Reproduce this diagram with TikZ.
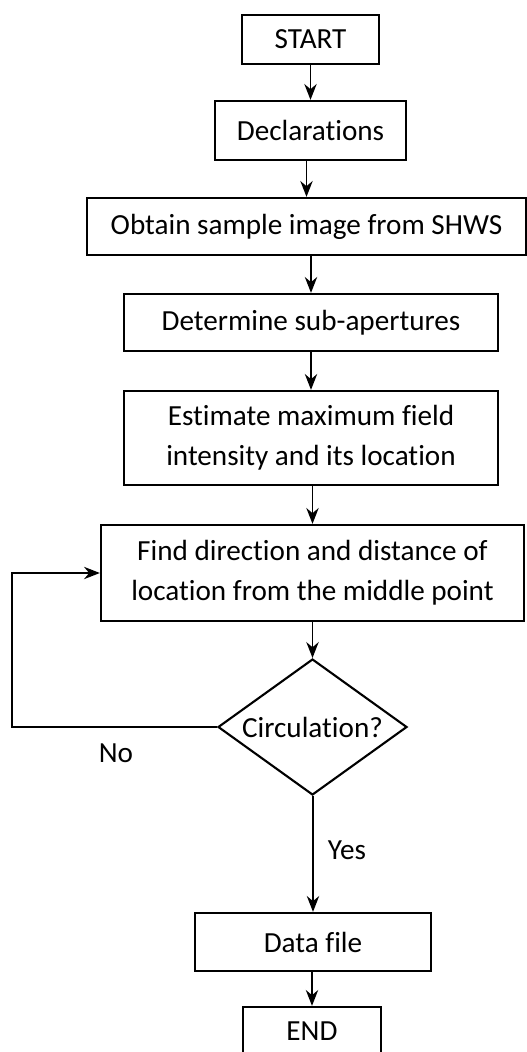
\documentclass[tikz,border=0pt]{standalone}
\usepackage{fontspec}
\setmainfont{Carlito}[Ligatures=NoCommon]
\usetikzlibrary{shapes.geometric, arrows.meta}
\newcommand{\flowfont}{\fontsize{16.6}{22.7}\selectfont}
\tikzset{
  box/.style={rectangle, draw=black, line width=1.3pt, align=center,
    inner sep=0pt, font=\flowfont},
  decision/.style={diamond, draw=black, line width=1.2pt, aspect=1.39,
    inner sep=0pt, minimum width=3.78cm, minimum height=2.72cm, font=\flowfont},
  label/.style={font=\flowfont, inner sep=0pt},
  arrow/.style={-{Stealth[length=9pt, width=7pt]}, line width=1.1pt},
  line/.style={line width=1.1pt}
}

\begin{document}
\begin{tikzpicture}
  \useasboundingbox (0,0) rectangle (10.54,-21.04);
  % flow boxes
  \node[box, minimum width=2.74cm, minimum height=0.98cm] (start) at (6.21,-0.79) {START};
  \node[box, minimum width=3.82cm, minimum height=1.18cm] (decl) at (6.21,-2.61) {Declarations};
  \node[box, minimum width=8.78cm, minimum height=1.14cm] (obtain) at (6.13,-4.53) {Obtain sample image from SHWS};
  \node[box, minimum width=7.48cm, minimum height=1.14cm] (subap) at (6.22,-6.45) {Determine sub-apertures};
  \node[box, minimum width=7.48cm, minimum height=1.88cm] (estim) at (6.22,-8.76) {Estimate maximum field\\intensity and its location};
  \node[box, minimum width=8.46cm, minimum height=1.92cm] (find) at (6.25,-11.46) {Find direction and distance of\\location from the middle point};
  \node[decision] (circ) at (6.25,-14.54) {Circulation?};
  \node[box, minimum width=4.72cm, minimum height=1.16cm] (data) at (6.26,-18.84) {Data file};
  \node[box, minimum width=2.76cm, minimum height=0.98cm] (stop) at (6.24,-20.63) {END};
  % straight flow
  \foreach \a/\b in {start/decl, decl/obtain, obtain/subap, subap/estim,
                     estim/find, find/circ, circ/data, data/stop} {
     \draw[arrow] (\b.north |- \a.south) -- (\b.north);
  }
  % loop back
  \coordinate (back) at (0.24,-11.46);
  \draw[arrow] (circ.west) -| (back) -- (find.west);
  \node[label] (no) at (2.32,-15.06) {No};
  \node[label] (yes) at (6.94,-17.0) {Yes};
\end{tikzpicture}
\end{document}
